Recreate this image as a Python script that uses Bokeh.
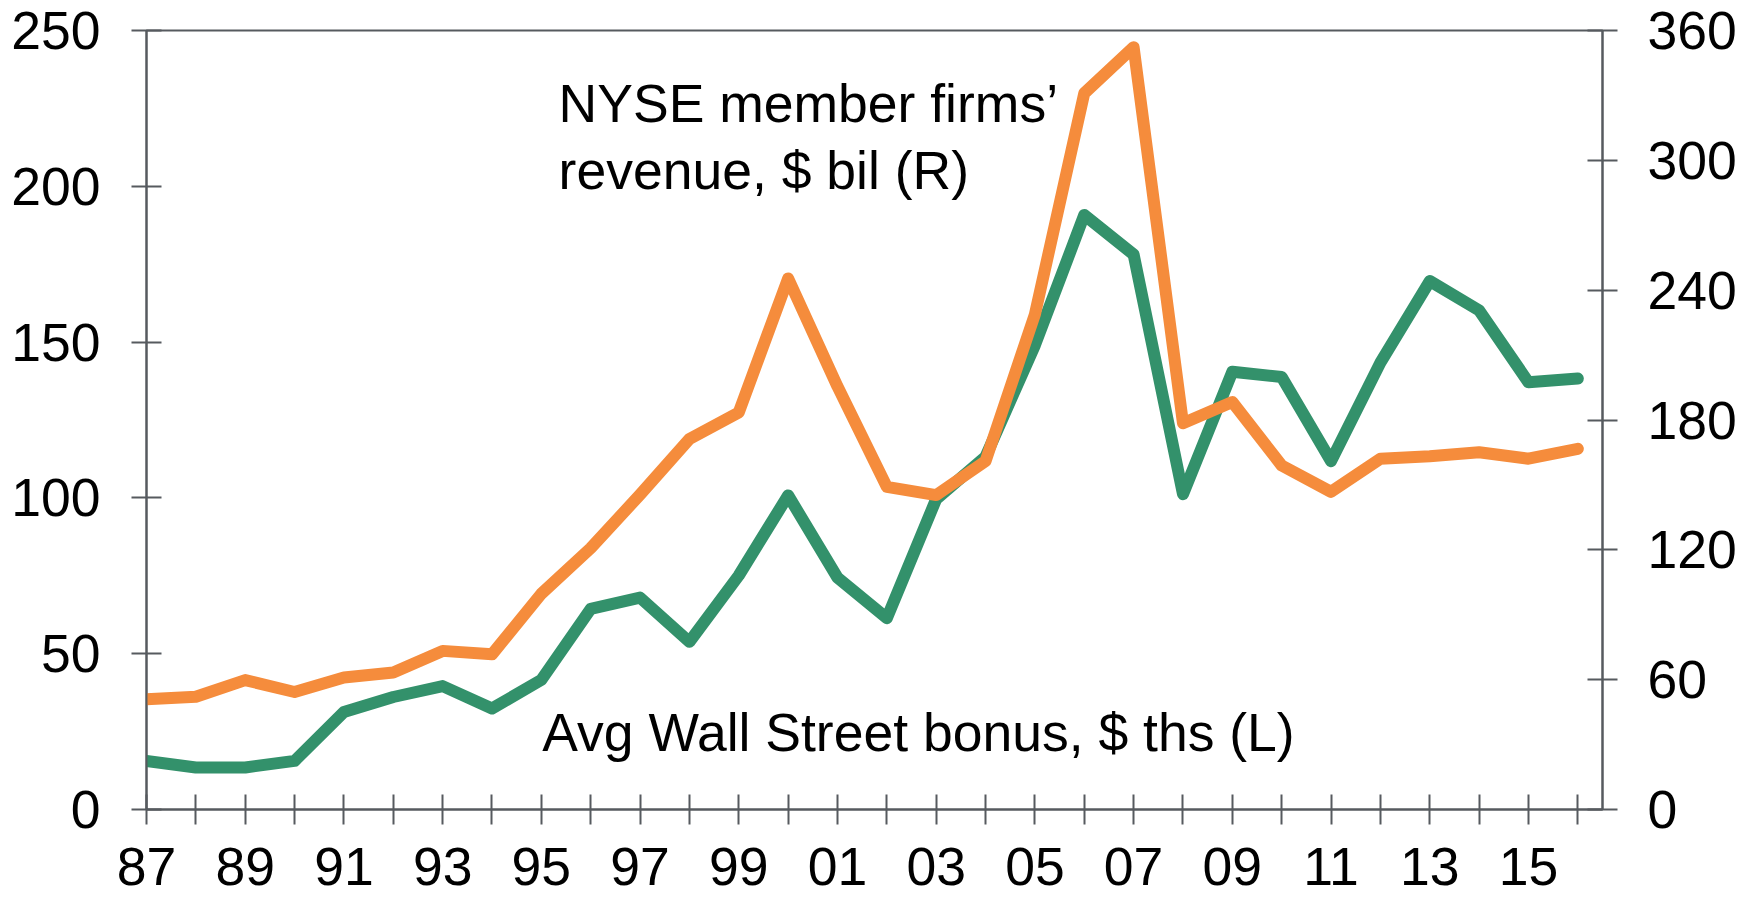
from bokeh.plotting import figure
from bokeh.models import Range1d, LinearAxis, FixedTicker
from bokeh.core.properties import value
from bokeh.embed import file_html
from bokeh.resources import INLINE

# ---- data ----
years = list(range(1987, 2017))
bonus_ths = [15.6, 13.5, 13.5, 15.6, 31.3, 36.1, 39.6, 32.4, 41.6, 64.4,
             68.0, 53.8, 75.1, 100.8, 74.4, 61.4, 99.6, 113.2, 149.0, 190.8,
             178.1, 101.2, 140.5, 138.8, 111.8, 143.4, 169.6, 160.2, 137.1, 138.3]
revenue_bil = [51.0, 52.1, 59.8, 54.3, 61.0, 63.3, 73.3, 71.7, 99.7, 120.8,
               145.5, 171.2, 183.5, 245.4, 195.5, 149.1, 145.3, 161.0, 228.8, 331.0,
               352.3, 178.5, 188.3, 159.0, 146.8, 162.1, 163.2, 165.1, 162.1, 166.7]
x_labels = ["87", "", "89", "", "91", "", "93", "", "95", "", "97", "", "99", "",
            "01", "", "03", "", "05", "", "07", "", "09", "", "11", "", "13", "", "15", ""]
left_ticks = [0, 50, 100, 150, 200, 250]
right_ticks = [0, 60, 120, 180, 240, 300, 360]
label_rev = ["NYSE member firms\u2019", "revenue, $ bil (R)"]
label_bonus = ["Avg Wall Street bonus, $ ths (L)"]

# ---- style ----
AX = "#565a5f"
GREEN = "#33916b"
ORANGE = "#f58c3c"
FONT = "Liberation Sans"
FS = "53.5px"

p = figure(width=1752, height=897, output_backend="svg", toolbar_location=None,
           x_range=Range1d(1987, 2016.5), y_range=Range1d(0, 250),
           min_border_left=146, min_border_right=150, min_border_top=30,
           min_border_bottom=88)
p.extra_y_ranges = {"rev": Range1d(0, 360)}
p.grid.visible = False
p.outline_line_color = AX
p.outline_line_width = 2
p.background_fill_color = "white"
p.border_fill_color = "white"

def style_axis(ax, standoff):
    ax.axis_line_color = AX
    ax.axis_line_width = 2
    ax.major_tick_line_color = AX
    ax.major_tick_line_width = 2
    ax.major_tick_in = 15
    ax.major_tick_out = 15
    ax.minor_tick_line_color = None
    ax.major_label_text_font = FONT
    ax.major_label_text_font_size = FS
    ax.major_label_text_color = "black"
    ax.major_label_standoff = standoff

xa = p.xaxis[0]
xa.ticker = FixedTicker(ticks=years)
xa.major_label_overrides = {y: lab for y, lab in zip(years, x_labels)}
style_axis(xa, 23)

ya = p.yaxis[0]
ya.ticker = FixedTicker(ticks=left_ticks)
style_axis(ya, 31)

yr = LinearAxis(y_range_name="rev", ticker=FixedTicker(ticks=right_ticks))
style_axis(yr, 30)
p.add_layout(yr, "right")

p.line(years, bonus_ths, line_color=GREEN, line_width=12,
       line_join="round", line_cap="round")
p.line(years, revenue_bil, line_color=ORANGE, line_width=12,
       line_join="round", line_cap="round", y_range_name="rev")

p.text(x=[1995.35, 1995.35], y=[226.5, 205.0], text=label_rev,
       text_font=value(FONT), text_font_size=FS, text_color="black",
       text_align="left", text_baseline="alphabetic")
p.text(x=[1995.02], y=[24.8], text=label_bonus,
       text_font=value(FONT), text_font_size=FS, text_color="black",
       text_align="left", text_baseline="alphabetic")

open("out.html", "w").write(file_html(p, INLINE))
